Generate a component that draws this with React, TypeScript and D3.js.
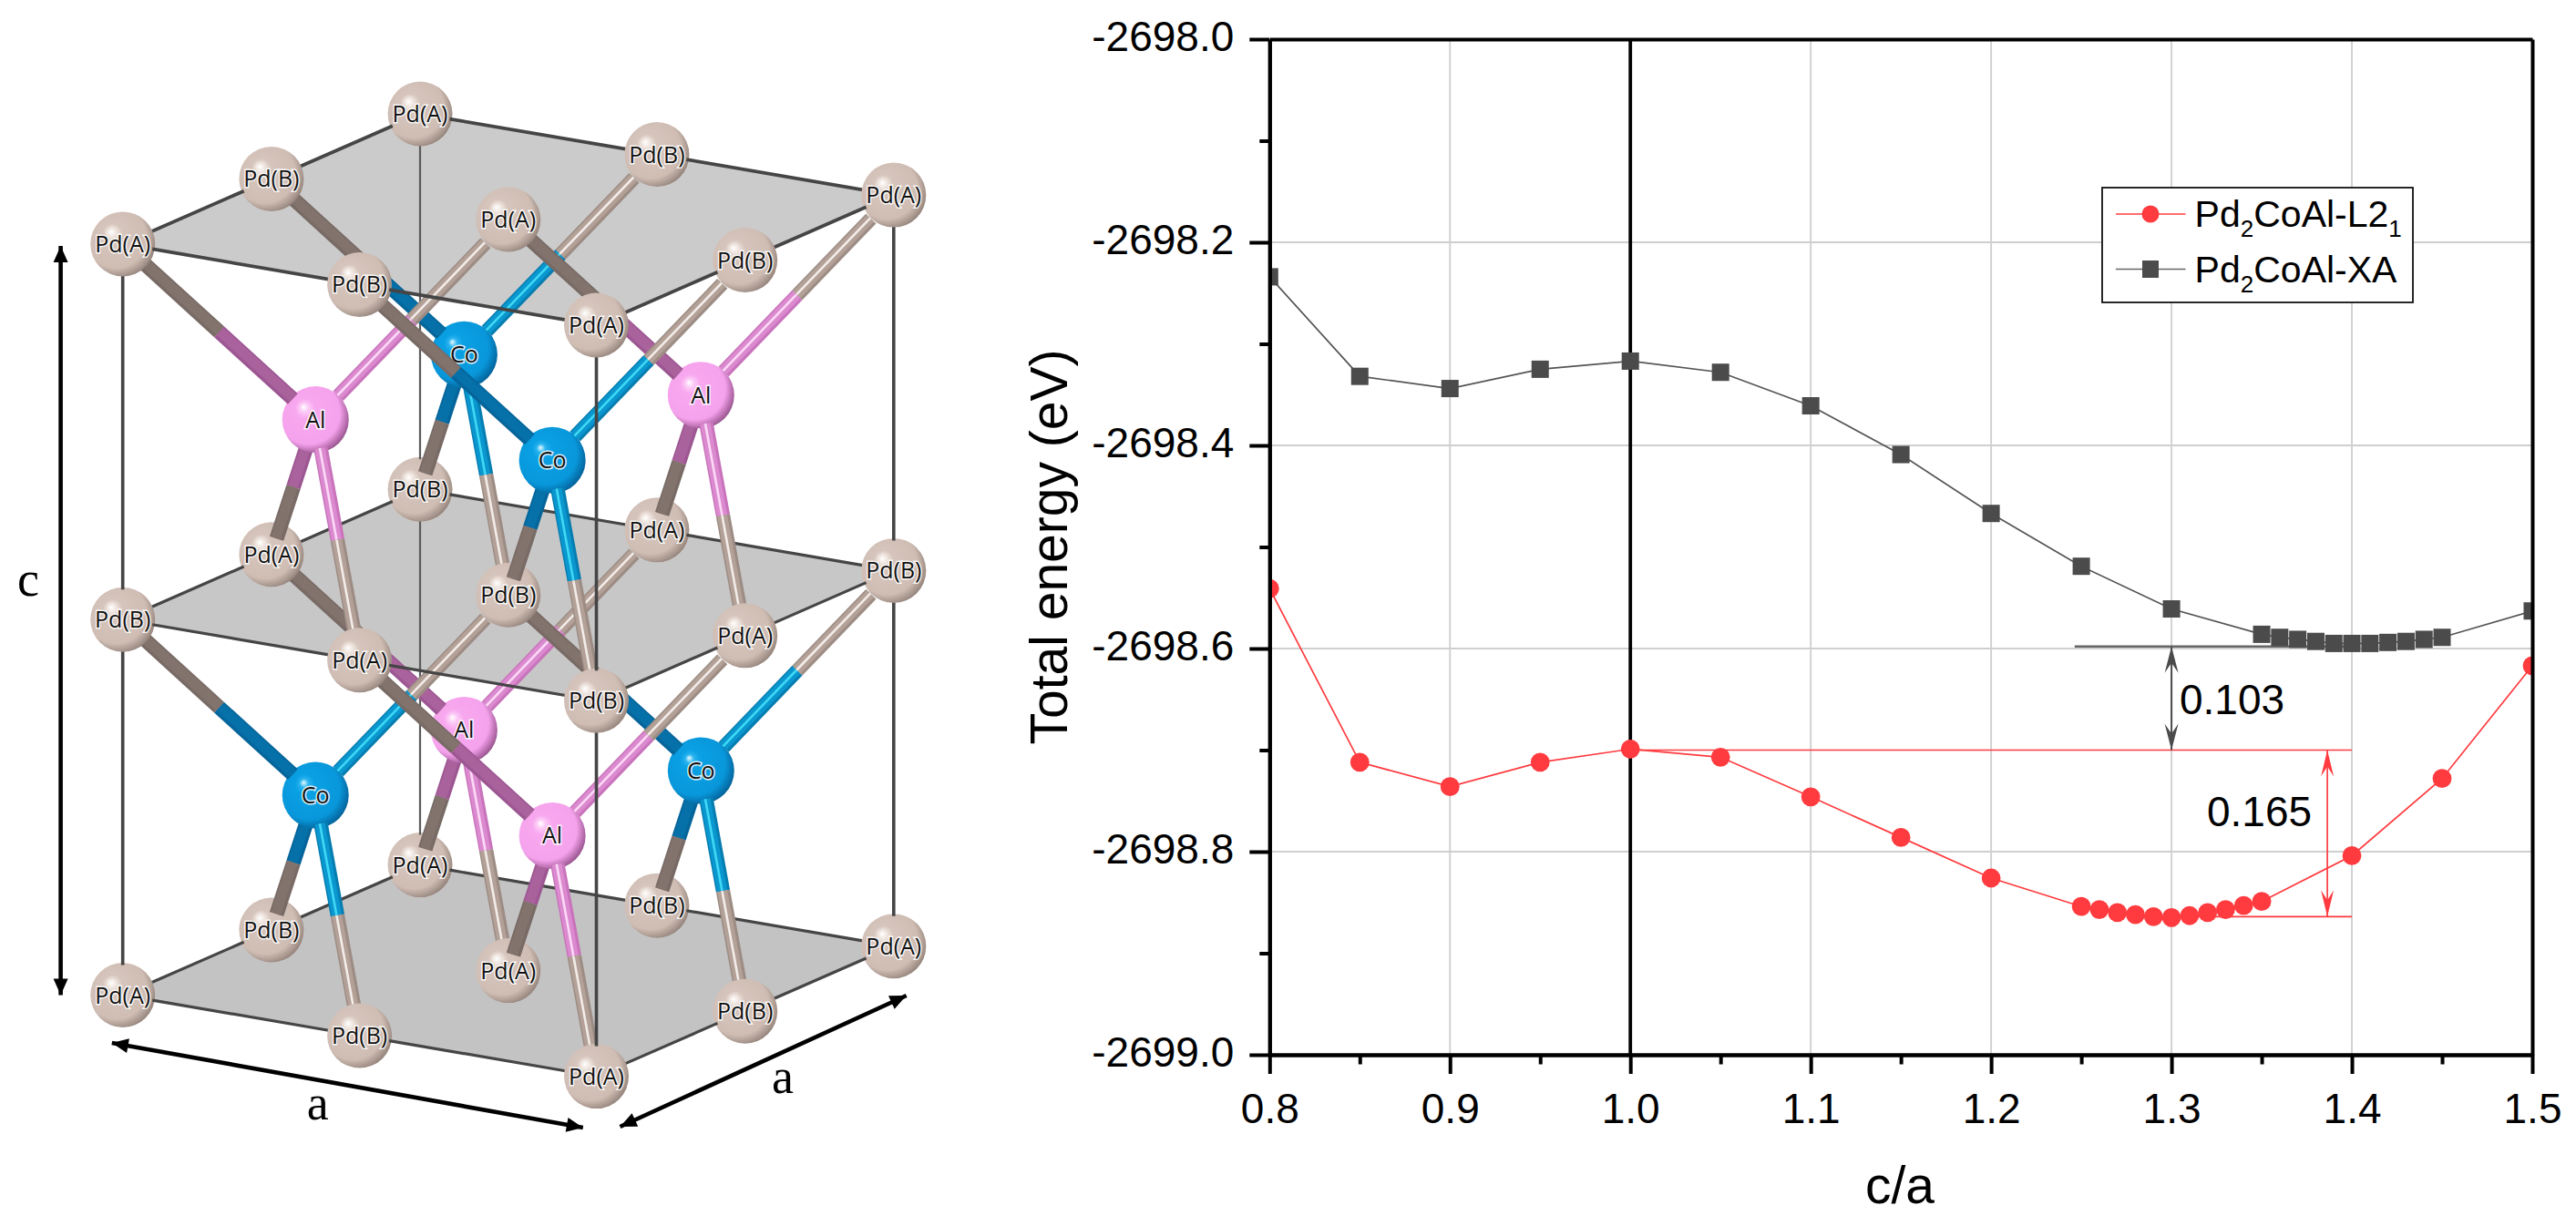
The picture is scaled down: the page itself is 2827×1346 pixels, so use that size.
import React, { useEffect, useRef } from 'react'
import * as d3 from 'd3'

// energy curves (total energy in eV)
const xL21 = [0.8, 0.85, 0.9, 0.95, 1.0, 1.05, 1.1, 1.15, 1.2, 1.25, 1.26, 1.27, 1.28, 1.29, 1.3, 1.31, 1.32, 1.33, 1.34, 1.35, 1.4, 1.45, 1.5]
const eL21 = [-2698.541, -2698.712, -2698.736, -2698.712, -2698.699, -2698.707, -2698.746, -2698.786, -2698.826, -2698.854, -2698.857, -2698.86, -2698.862, -2698.864, -2698.865, -2698.863, -2698.86, -2698.857, -2698.853, -2698.849, -2698.804, -2698.728, -2698.617]
const xXA = [0.8, 0.85, 0.9, 0.95, 1.0, 1.05, 1.1, 1.15, 1.2, 1.25, 1.3, 1.35, 1.36, 1.37, 1.38, 1.39, 1.4, 1.41, 1.42, 1.43, 1.44, 1.45, 1.5]
const eXA = [-2698.234, -2698.332, -2698.344, -2698.325, -2698.317, -2698.328, -2698.361, -2698.409, -2698.467, -2698.519, -2698.561, -2698.586, -2698.589, -2698.591, -2698.593, -2698.595, -2698.595, -2698.595, -2698.594, -2698.593, -2698.591, -2698.589, -2698.563]

const yMajor = [-2698.0, -2698.2, -2698.4, -2698.6, -2698.8, -2699.0]
const yMinor = [-2698.1, -2698.3, -2698.5, -2698.7, -2698.9]
const xMajor = [0.8, 0.9, 1.0, 1.1, 1.2, 1.3, 1.4, 1.5]
const xMinor = [0.85, 0.95, 1.05, 1.15, 1.25, 1.35, 1.45]

// annotation levels
const xaMin = -2698.598
const l21Ref = -2698.7
const l21Min = -2698.864
const gapLabels = ['0.103', '0.165']

// crystal: Pd sublattice labels per layer, (u,v) order, and the inner Al/Co sites
const layerW = [0, 0.5, 1]
const gridUV = [[0, 0], [0, 0.5], [0, 1], [0.5, 0], [0.5, 0.5], [0.5, 1], [1, 0], [1, 0.5], [1, 1]]
const layerPd = [
	['A', 'B', 'A', 'B', 'A', 'B', 'A', 'B', 'A'],
	['B', 'A', 'B', 'A', 'B', 'A', 'B', 'A', 'B'],
	['A', 'B', 'A', 'B', 'A', 'B', 'A', 'B', 'A']
]
const innerU = [0.25, 0.25, 0.75, 0.75, 0.25, 0.25, 0.75, 0.75]
const innerV = [0.25, 0.75, 0.25, 0.75, 0.25, 0.75, 0.25, 0.75]
const innerW = [0.25, 0.25, 0.25, 0.25, 0.75, 0.75, 0.75, 0.75]
const innerEl = ['Al', 'Co', 'Co', 'Al', 'Co', 'Al', 'Al', 'Co']
const bondDirs = [[-1, -1, -1], [1, 1, -1], [-1, 1, 1], [1, -1, 1]]

const bondStyle: any = {
	Pd: { dark: ['#786a65', '#82736d'], light: ['#9c8c84', '#b3a198', '#f3ece8'] },
	Al: { dark: ['#9c5792', '#aa629d'], light: ['#c873bb', '#dc8ad0', '#fcd9f7'] },
	Co: { dark: ['#05659a', '#0670a8'], light: ['#067db0', '#0a97cf', '#3fd8f5'] }
}
const atomStops: any = {
	Pd: ['#ffffff', '#efe5df', '#d6c5bc', '#cfbdb4', '#a39289', '#8b7b73'],
	Al: ['#ffffff', '#fcc9f6', '#f8a8ef', '#f5a2ec', '#ae65a4', '#8c4f84'],
	Co: ['#e8fbff', '#27b2ee', '#0aa0e4', '#0897da', '#056ea9', '#045a8e']
}

const width = 2827
const height = 1346
const plot = { left: 1393.3, right: 2779, top: 43, bottom: 1158 }
const red = '#ff3b3f'
const gray = '#4b4b4b'
const chartFont = '"Liberation Sans", Arial, sans-serif'
const serif = '"Liberation Serif", "Times New Roman", serif'

const App = () => {
	const ref = useRef<SVGSVGElement>(null)

	useEffect(() => {
		if (!ref.current) return
		const svg = d3.select(ref.current)
		svg.selectAll('*').remove()
		const defs = svg.append('defs')
		drawCrystal(svg, defs)
		drawChart(svg, defs)
	}, [])

	return (
		<svg
			ref={ref}
			width={width}
			height={height}
			style={{ position: 'absolute', left: 0, top: 0, background: '#fff' }}
		/>
	)
}

function drawCrystal(svg: any, defs: any) {
	const ux = d3.scaleLinear().domain([0, 1]).range([134.7, 654.5])
	const vx = d3.scaleLinear().domain([0, 1]).range([0, 326.3])
	const uy = d3.scaleLinear().domain([0, 1]).range([267.9, 357])
	const vy = d3.scaleLinear().domain([0, 1]).range([0, -142.9])
	const wy = d3.scaleLinear().domain([0, 1]).range([0, 824.6])
	const project = (u: number, v: number, w: number) => [ux(u) + vx(v), uy(u) + vy(v) + wy(w)]
	// distance from the camera, larger is further away
	const depth = (u: number, v: number, w: number) => -313.6 * u + 499.6 * v + 235 * w

	Object.keys(atomStops).forEach(el => {
		const g = defs
			.append('radialGradient')
			.attr('id', `atom-${el}`)
			.attr('cx', 0.42)
			.attr('cy', 0.43)
			.attr('r', 0.62)
			.attr('fx', 0.32)
			.attr('fy', 0.31)
		const offs = [0, 0.11, 0.24, 0.76, 0.93, 1]
		atomStops[el].forEach((c: string, i: number) => {
			g.append('stop').attr('offset', offs[i]).attr('stop-color', c)
		})
	})

	const scene = svg.append('g').attr('class', 'crystal')

	// grey planes, bottom one first
	const planeColor = ['#cbcbcb', '#c7c7c7', '#c3c3c3']
	const corners = [[0, 0], [1, 0], [1, 1], [0, 1]]
	for (let i = 2; i >= 0; i--) {
		const pts = corners.map(c => project(c[0], c[1], layerW[i]))
		scene.append('path').attr('d', d3.line()(pts as any) + 'Z').attr('fill', planeColor[i])
	}

	const items: { d: number; draw: (g: any) => void }[] = []

	const trimmedLine = (a: number[], b: number[], color: string, w: number) => {
		const pa = project(a[0], a[1], a[2])
		const pb = project(b[0], b[1], b[2])
		const len = Math.hypot(pb[0] - pa[0], pb[1] - pa[1])
		const t = 33 / len
		items.push({
			d: depth((a[0] + b[0]) / 2, (a[1] + b[1]) / 2, (a[2] + b[2]) / 2),
			draw: g => {
				g.append('line')
					.attr('x1', pa[0] + (pb[0] - pa[0]) * t)
					.attr('y1', pa[1] + (pb[1] - pa[1]) * t)
					.attr('x2', pb[0] - (pb[0] - pa[0]) * t)
					.attr('y2', pb[1] - (pb[1] - pa[1]) * t)
					.attr('stroke', color)
					.attr('stroke-width', w)
			}
		})
	}

	// plane outlines
	const outline = [[0, 0], [0.5, 0], [1, 0], [1, 0.5], [1, 1], [0.5, 1], [0, 1], [0, 0.5], [0, 0]]
	layerW.forEach(w => {
		d3.pairs(outline).forEach(([a, b]) => {
			trimmedLine([a[0], a[1], w], [b[0], b[1], w], '#454545', w === 0 ? 3.8 : 3.2)
		})
	})
	// vertical cell edges
	;[[0, 0], [1, 0], [1, 1], [0, 1]].forEach(c => {
		d3.pairs(layerW).forEach(([w0, w1]) => {
			const back = c[0] === 0 && c[1] === 1
			trimmedLine([c[0], c[1], w0], [c[0], c[1], w1], back ? '#5c5c5c' : '#454545', back ? 2.2 : 3.6)
		})
	})

	// bonds, split half way between the two atoms
	innerEl.forEach((el, i) => {
		const a = [innerU[i], innerV[i], innerW[i]]
		bondDirs.forEach(dir => {
			const b = [a[0] + dir[0] * 0.25, a[1] + dir[1] * 0.25, a[2] + dir[2] * 0.25]
			const pa = project(a[0], a[1], a[2])
			const pb = project(b[0], b[1], b[2])
			const dark = dir[1] * dir[2] > 0
			const at = (t: number) => [pa[0] + (pb[0] - pa[0]) * t, pa[1] + (pb[1] - pa[1]) * t]
			const halves = [
				{ el, from: at(0.118), to: at(0.5) },
				{ el: 'Pd', from: at(0.5), to: at(0.882) }
			]
			const len = Math.hypot(pb[0] - pa[0], pb[1] - pa[1])
			let nx = -(pb[1] - pa[1]) / len
			let ny = (pb[0] - pa[0]) / len
			if (nx + ny > 0) {
				nx = -nx
				ny = -ny
			}
			items.push({
				d: depth((a[0] + b[0]) / 2, (a[1] + b[1]) / 2, (a[2] + b[2]) / 2),
				draw: g => {
					halves.forEach(h => {
						const st = bondStyle[h.el]
						const seg = (w: number, c: string, off = 0) =>
							g
								.append('line')
								.attr('x1', h.from[0] + nx * off)
								.attr('y1', h.from[1] + ny * off)
								.attr('x2', h.to[0] + nx * off)
								.attr('y2', h.to[1] + ny * off)
								.attr('stroke', c)
								.attr('stroke-width', w)
						if (dark) {
							seg(16, st.dark[0])
							seg(11, st.dark[1], 0.8)
						} else {
							seg(15.5, st.light[0])
							seg(11, st.light[1], 0.8)
							seg(2.6, st.light[2], 1)
						}
					})
				}
			})
		})
	})

	// atoms
	const addAtom = (u: number, v: number, w: number, el: string, label: string) => {
		const [x, y] = project(u, v, w)
		items.push({
			d: depth(u, v, w),
			draw: g => {
				g.append('circle')
					.attr('cx', x)
					.attr('cy', y)
					.attr('r', el === 'Pd' ? 35.5 : 36.5)
					.attr('fill', `url(#atom-${el})`)
				g.append('text')
					.attr('x', x)
					.attr('y', y + 9)
					.attr('text-anchor', 'middle')
					.attr('font-family', '"Open Sans", sans-serif')
					.attr('font-size', 25)
					.attr('fill', '#111')
					.attr('stroke', 'rgba(255,255,255,0.85)')
					.attr('stroke-width', 3)
					.attr('paint-order', 'stroke')
					.text(label)
			}
		})
	}
	layerW.forEach((w, li) => {
		gridUV.forEach((uv, i) => addAtom(uv[0], uv[1], w, 'Pd', `Pd(${layerPd[li][i]})`))
	})
	innerEl.forEach((el, i) => addAtom(innerU[i], innerV[i], innerW[i], el, el))

	items.sort((p, q) => q.d - p.d).forEach(it => it.draw(scene))

	// cell parameter arrows
	const arrow = (x1: number, y1: number, x2: number, y2: number) => {
		const a = Math.atan2(y2 - y1, x2 - x1)
		const head = (x: number, y: number, t: number) => {
			const l = 18
			const w = 8
			const bx = x - Math.cos(t) * l
			const by = y - Math.sin(t) * l
			return `M${x},${y}L${bx - Math.sin(t) * w},${by + Math.cos(t) * w}L${bx + Math.sin(t) * w},${by - Math.cos(t) * w}Z`
		}
		scene.append('line').attr('x1', x1).attr('y1', y1).attr('x2', x2).attr('y2', y2).attr('stroke', '#000').attr('stroke-width', 4.6)
		scene.append('path').attr('d', head(x2, y2, a) + head(x1, y1, a + Math.PI)).attr('fill', '#000')
	}
	arrow(66.6, 270, 66.6, 1092.5)
	arrow(122.8, 1145, 639.8, 1238)
	arrow(680.5, 1237, 994.7, 1093)
	const sceneLabels = [
		{ t: 'c', x: 31, y: 654 },
		{ t: 'a', x: 348.7, y: 1229 },
		{ t: 'a', x: 859, y: 1200 }
	]
	scene
		.selectAll('text.cell')
		.data(sceneLabels)
		.join('text')
		.attr('class', 'cell')
		.attr('x', (d: any) => d.x)
		.attr('y', (d: any) => d.y)
		.attr('text-anchor', 'middle')
		.attr('font-family', serif)
		.attr('font-size', 54)
		.attr('fill', '#000')
		.text((d: any) => d.t)
}

function drawChart(svg: any, defs: any) {
	const x = d3.scaleLinear().domain([0.8, 1.5]).range([plot.left, plot.right])
	const y = d3.scaleLinear().domain([-2699, -2698]).range([plot.bottom, plot.top])

	defs.append('clipPath')
		.attr('id', 'plot-clip')
		.append('rect')
		.attr('x', plot.left)
		.attr('y', plot.top)
		.attr('width', plot.right - plot.left)
		.attr('height', plot.bottom - plot.top)

	const g = svg.append('g').attr('class', 'chart')

	// grid
	g.selectAll('line.gy')
		.data(yMajor.slice(1, -1))
		.join('line')
		.attr('class', 'gy')
		.attr('x1', plot.left)
		.attr('x2', plot.right)
		.attr('y1', (d: number) => y(d))
		.attr('y2', (d: number) => y(d))
		.attr('stroke', '#cfcfcf')
		.attr('stroke-width', 2.2)
	g.selectAll('line.gx')
		.data(xMajor.slice(1, -1))
		.join('line')
		.attr('class', 'gx')
		.attr('x1', (d: number) => x(d))
		.attr('x2', (d: number) => x(d))
		.attr('y1', plot.top)
		.attr('y2', plot.bottom)
		.attr('stroke', (d: number) => (d === 1.0 ? '#000' : '#d0d0d0'))
		.attr('stroke-width', (d: number) => (d === 1.0 ? 3.8 : 1.9))

	// reference levels
	const levels = [
		{ x1: 1.2463, x2: 1.4, v: xaMin, c: '#666', w: 2.6 },
		{ x1: 1.0, x2: 1.4, v: l21Ref, c: red, w: 1.7 },
		{ x1: 1.3, x2: 1.4, v: l21Min, c: red, w: 1.7 }
	]
	g.selectAll('line.level')
		.data(levels)
		.join('line')
		.attr('class', 'level')
		.attr('x1', (d: any) => x(d.x1))
		.attr('x2', (d: any) => x(d.x2))
		.attr('y1', (d: any) => y(d.v))
		.attr('y2', (d: any) => y(d.v))
		.attr('stroke', (d: any) => d.c)
		.attr('stroke-width', (d: any) => d.w)

	// series
	const clipped = g.append('g').attr('clip-path', 'url(#plot-clip)')
	const path = (xs: number[], es: number[]) =>
		d3
			.line<number>()
			.x(d => x(d))
			.y((_, i) => y(es[i]))(xs)
	clipped.append('path').attr('d', path(xXA, eXA)).attr('fill', 'none').attr('stroke', '#555').attr('stroke-width', 1.7)
	clipped.append('path').attr('d', path(xL21, eL21)).attr('fill', 'none').attr('stroke', red).attr('stroke-width', 1.7)
	clipped
		.selectAll('rect.xa')
		.data(xXA)
		.join('rect')
		.attr('class', 'xa')
		.attr('x', (d: number) => x(d) - 9.5)
		.attr('y', (_: number, i: number) => y(eXA[i]) - 9.5)
		.attr('width', 19)
		.attr('height', 19)
		.attr('fill', gray)
	clipped
		.selectAll('circle.l21')
		.data(xL21)
		.join('circle')
		.attr('class', 'l21')
		.attr('cx', (d: number) => x(d))
		.attr('cy', (_: number, i: number) => y(eL21[i]))
		.attr('r', 10.4)
		.attr('fill', red)

	// double arrows for the energy gaps
	const gapArrow = (xv: number, v0: number, v1: number, c: string, hw: number, sw: number) => {
		const px = x(xv)
		const y0 = y(v0)
		const y1 = y(v1)
		const head = (tip: number, s: number) =>
			`M${px},${tip}L${px - hw},${tip + s * 29}L${px},${tip + s * 18}L${px + hw},${tip + s * 29}Z`
		g.append('line').attr('x1', px).attr('x2', px).attr('y1', y0).attr('y2', y1).attr('stroke', c).attr('stroke-width', sw)
		g.append('path').attr('d', head(y0, 1) + head(y1, -1)).attr('fill', c)
	}
	gapArrow(1.3, xaMin, l21Ref, gray, 7.5, 2)
	gapArrow(1.3864, l21Ref, l21Min, red, 7, 1.7)

	const annot = [
		{ t: gapLabels[0], x: 2392, y: 784 },
		{ t: gapLabels[1], x: 2422, y: 907 }
	]
	g.selectAll('text.gap')
		.data(annot)
		.join('text')
		.attr('class', 'gap')
		.attr('x', (d: any) => d.x)
		.attr('y', (d: any) => d.y)
		.attr('font-family', chartFont)
		.attr('font-size', 46)
		.attr('fill', '#000')
		.text((d: any) => d.t)

	// legend
	const lg = g.append('g').attr('class', 'legend')
	lg.append('rect')
		.attr('x', 2307)
		.attr('y', 206)
		.attr('width', 341)
		.attr('height', 126)
		.attr('fill', '#fff')
		.attr('stroke', '#111')
		.attr('stroke-width', 1.8)
	const legendRows = [
		{ y: 235, text: 'Pd', sub: '2', rest: 'CoAl-L2', sub2: '1', c: red },
		{ y: 295.5, text: 'Pd', sub: '2', rest: 'CoAl-XA', sub2: '', c: gray }
	]
	legendRows.forEach((r, i) => {
		lg.append('line')
			.attr('x1', 2322)
			.attr('x2', 2398.5)
			.attr('y1', r.y)
			.attr('y2', r.y)
			.attr('stroke', i === 0 ? red : '#666')
			.attr('stroke-width', 1.7)
		if (i === 0) {
			lg.append('circle').attr('cx', 2360).attr('cy', r.y).attr('r', 9.5).attr('fill', r.c)
		} else {
			lg.append('rect').attr('x', 2351).attr('y', r.y - 9.5).attr('width', 18).attr('height', 19).attr('fill', r.c)
		}
		const t = lg
			.append('text')
			.attr('x', 2408.6)
			.attr('y', r.y + 14)
			.attr('font-family', chartFont)
			.attr('font-size', 41)
			.attr('fill', '#000')
		t.append('tspan').text(r.text)
		t.append('tspan').attr('font-size', 26).attr('dy', 11).text(r.sub)
		t.append('tspan').attr('dy', -11).text(r.rest)
		if (r.sub2) t.append('tspan').attr('font-size', 26).attr('dy', 11).text(r.sub2)
	})

	// axes
	const styleAxis = (a: any) => {
		a.selectAll('path.domain').attr('stroke', '#000').attr('stroke-width', 4)
		a.selectAll('.tick line').attr('stroke', '#000').attr('stroke-width', 4)
		a.selectAll('text').attr('font-family', chartFont).attr('font-size', 46).attr('fill', '#000')
	}
	const axes = g.append('g').attr('class', 'axes')
	const at = (sel: any, tx: number, ty: number) => sel.attr('transform', `translate(${tx},${ty})`)

	at(axes.append('g'), plot.left, 0)
		.call(d3.axisLeft(y).tickValues(yMinor).tickSize(11).tickSizeOuter(0).tickFormat(() => ''))
		.call(styleAxis)
	at(axes.append('g'), plot.left, 0)
		.call(d3.axisLeft(y).tickValues(yMajor).tickSize(22).tickSizeOuter(0).tickPadding(17).tickFormat((d: any) => d.toFixed(1)))
		.call(styleAxis)
		.selectAll('text')
		.attr('dy', '0.28em')
	at(axes.append('g'), 0, plot.bottom)
		.call(d3.axisBottom(x).tickValues(xMinor).tickSize(10.5).tickSizeOuter(0).tickFormat(() => ''))
		.call(styleAxis)
	at(axes.append('g'), 0, plot.bottom)
		.call(d3.axisBottom(x).tickValues(xMajor).tickSize(21).tickSizeOuter(0).tickPadding(21).tickFormat((d: any) => d.toFixed(1)))
		.call(styleAxis)
	at(axes.append('g'), 0, plot.top)
		.call(d3.axisTop(x).tickValues([]).tickSizeOuter(0))
		.call(styleAxis)
	at(axes.append('g'), plot.right, 0)
		.call(d3.axisRight(y).tickValues([]).tickSizeOuter(0))
		.call(styleAxis)

	g.append('text')
		.attr('transform', `translate(1171,600.5) rotate(-90)`)
		.attr('text-anchor', 'middle')
		.attr('font-family', chartFont)
		.attr('font-size', 57)
		.attr('fill', '#000')
		.text('Total energy (eV)')
	g.append('text')
		.attr('x', 2085)
		.attr('y', 1321)
		.attr('text-anchor', 'middle')
		.attr('font-family', chartFont)
		.attr('font-size', 57)
		.attr('fill', '#000')
		.text('c/a')
}

export default App
